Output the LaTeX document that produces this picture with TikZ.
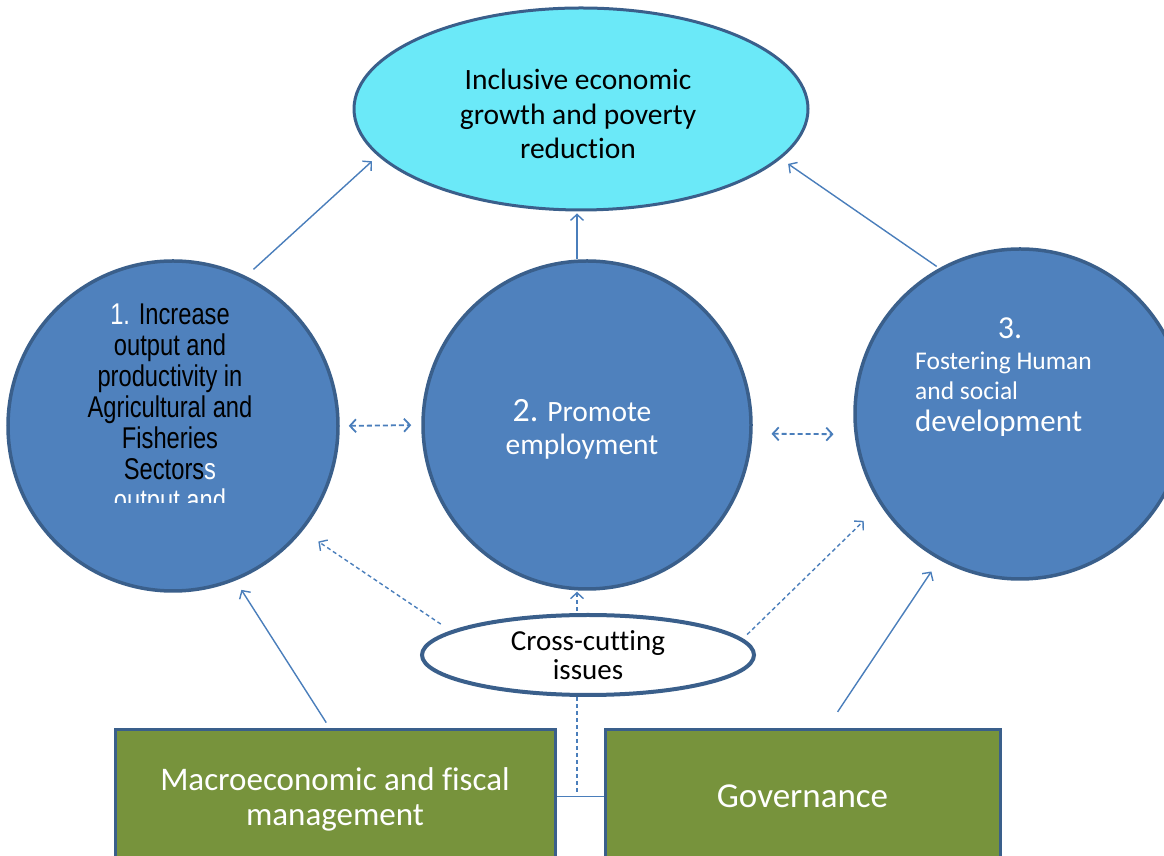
\documentclass[tikz,border=0pt]{standalone}
\usepackage{fontspec}
\setmainfont{Carlito}[Ligatures=NoCommon]
\newfontfamily\narrowsans[FakeStretch=0.79]{Liberation Sans}
\usetikzlibrary{shapes.geometric,arrows.meta}
\definecolor{pillarblue}{HTML}{4F81BD}
\definecolor{borderblue}{HTML}{3A5F8B}
\definecolor{goalcyan}{HTML}{6BE9F8}
\definecolor{boxgreen}{HTML}{77933C}
\definecolor{arrowblue}{HTML}{4A7EBB}
\tikzset{pillar/.style={draw=borderblue,line width=3.5pt,fill=pillarblue,circle,minimum size=330pt,inner sep=0pt}}
\tikzset{goalnode/.style={draw=borderblue,line width=3pt,fill=goalcyan,ellipse,minimum width=454pt,minimum height=202pt,inner sep=0pt}}
\tikzset{crossnode/.style={draw=borderblue,line width=4pt,fill=white,ellipse,minimum width=332pt,minimum height=80pt,inner sep=0pt,align=center,font=\fontsize{29}{29}\selectfont}}
\tikzset{basebox/.style={draw=borderblue,line width=3pt,fill=boxgreen,minimum height=133pt,inner sep=0pt,align=center,text=white,font=\fontsize{33}{35}\selectfont}}
\tikzset{label text/.style={inner sep=0pt,align=center}}
\tikzset{link/.style={draw=arrowblue,line width=1.4pt,-{Straight Barb[length=6pt,width=13pt]}}}
\tikzset{dlink/.style={link,dash pattern=on 4pt off 3pt}}
\tikzset{ddlink/.style={dlink,line width=1.8pt,dash pattern=on 5pt off 3pt,{Straight Barb[length=6pt,width=13pt]}-{Straight Barb[length=6pt,width=13pt]}}}

\begin{document}
\begin{tikzpicture}[x=1pt,y=1pt]
    \useasboundingbox (0,0) rectangle (1164,856);

    % goal and the three pillars
    \node[goalnode] (goal) at (581,747) {};
    \node[label text,font=\fontsize{29.5}{34.5}\selectfont] (goaltext) at ([xshift=-3pt,yshift=-5pt]goal.center) {Inclusive economic\\growth and poverty\\reduction};
    \node[pillar] (c1) at (173,430) {};
    \node[pillar,minimum size=328pt] (c2) at (587,431) {};
    \node[pillar] (c3) at (1020,442) {};

    \begin{scope}
      \clip (0,353) rectangle (400,600);
      \node[anchor=north,label text,font=\narrowsans\fontsize{30}{31}\selectfont] (c1text) at (170,552) {\textcolor{white}{1.} Increase\\output and\\productivity in\\Agricultural and\\Fisheries\\Sectors\textcolor{white}{s}\\\textcolor{white}{output and}};
    \end{scope}

    \node[label text,text=white,font=\fontsize{29.5}{33}\selectfont] (c2text) at ([xshift=-5pt,yshift=-4pt]c2.center) {{\fontsize{34}{34}\selectfont 2.} Promote\\employment};

    \node[label text,text=white,font=\fontsize{32}{32}\selectfont] (c3num) at (1010,528) {3.};
    \node[anchor=north west,label text,align=left,text=white,font=\fontsize{25.5}{30}\selectfont] (c3text) at (915,504) {Fostering Human\\and social\\[2pt]{\fontsize{31}{31}\selectfont development}};

    % cross-cutting and the two base boxes
    \node[crossnode] (cross) at (588,201) {Cross-cutting\\issues};
    \node[basebox,minimum width=440pt,minimum height=139pt] (macro) at (335,56.5) {Macroeconomic and fiscal\\management};
    \node[basebox,minimum width=395pt,font=\fontsize{35}{35}\selectfont] (gov) at (802.5,59.5) {Governance};

    % arrows
    \draw[link,shorten <=10pt,shorten >=8pt] (c1.64) -- (goal.193.6);
    \draw[link,shorten >=2pt] ([xshift=-10pt]c2.north) -- ([xshift=-4pt]goal.south);
    \draw[link,shorten <=3pt,shorten >=9pt] (c3.119) -- (goal.346);
    \draw[ddlink,shorten <=9pt,shorten >=10pt] (c1.east) -- (c2.west);
    \draw[ddlink,shorten <=19pt,shorten >=21pt] (c2.357) -- (c3.187);
    \draw[dlink,shorten <=12pt,shorten >=19pt] (cross.170) -- (c1.321);
    \draw[dlink,shorten <=2pt,shorten >=1pt] ([xshift=-11pt]cross.north) -- ([xshift=-10pt]c2.south);
    \draw[dlink,shorten <=6pt,shorten >=23pt] (cross.6.7) -- (c3.213);
    \draw[link,shorten <=7pt,shorten >=11pt] ([xshift=-5pt]macro.north) -- (c1.292.6);
    \draw[link,shorten <=20pt,shorten >=14pt] ([xshift=24pt]gov.north) -- (c3.241);
    \draw[arrowblue,line width=1.4pt] (macro.east |- gov.west) -- (gov.west);
    \draw[arrowblue,line width=1.2pt,dash pattern=on 4pt off 3pt,shorten >=4pt] ([xshift=-11pt]cross.south) -- ([xshift=-11pt]cross.south |- gov.west);

\end{tikzpicture}
\end{document}
